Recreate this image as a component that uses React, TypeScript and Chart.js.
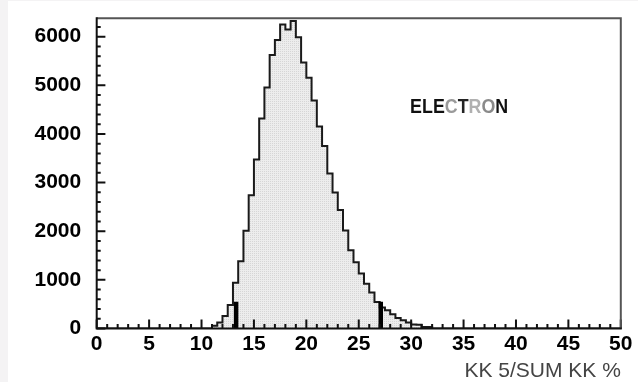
import React, { useEffect, useRef } from 'react';
import { Chart, registerables } from 'chart.js';

Chart.register(...registerables);

// Histogram: lower edge of each 0.5-wide bin and its entry count
const binLow = [
  11.0, 11.5, 12.0, 12.5, 13.0, 13.5, 14.0, 14.5, 15.0, 15.5,
  16.0, 16.5, 17.0, 17.5, 18.0, 18.5, 19.0, 19.5, 20.0, 20.5,
  21.0, 21.5, 22.0, 22.5, 23.0, 23.5, 24.0, 24.5, 25.0, 25.5,
  26.0, 26.5, 27.0, 27.5, 28.0, 28.5, 29.0, 29.5, 30.0, 30.5,
  31.0, 31.5,
];
const counts = [
  55, 125, 255, 485, 942, 1384, 2012, 2742, 3476, 4320,
  4957, 5622, 5930, 6253, 6150, 6321, 5990, 5468, 5155, 4686,
  4155, 3750, 3188, 2795, 2434, 2015, 1611, 1360, 1130, 920,
  740, 545, 430, 376, 295, 218, 171, 125, 82, 75,
  30, 30,
];
const binWidth = 0.5;

// Cut markers
const markerX = [13.3, 27.1];
const markerTop = [550, 550];

// Axes
const xMin = 0;
const xMax = 50;
const xTickLabels = [0, 5, 10, 15, 20, 25, 30, 35, 40, 45, 50];
const xMajor = 5;
const xMinor = 1;
const yMin = 0;
const yMax = 6380;
const yTickLabels = [0, 1000, 2000, 3000, 4000, 5000, 6000];
const yMajor = 1000;
const yMinor = 200;

const xTitle = 'KK 5/SUM KK %';
const label = 'ELECTRON';
const labelColors = ['#111', '#111', '#111', '#9a9a9a', '#222', '#b0b0b0', '#8a8a8a', '#111'];
const labelPos = { x: 29.9, y: 4540 };

const FONT = '"Liberation Sans", Arial, sans-serif';

export default function App() {
  const ref = useRef<HTMLCanvasElement | null>(null);

  useEffect(() => {
    const canvas = ref.current;
    if (!canvas) return;

    // dotted light-grey fill pattern
    const pc = document.createElement('canvas');
    pc.width = 2;
    pc.height = 2;
    const pctx = pc.getContext('2d')!;
    pctx.fillStyle = '#ededed';
    pctx.fillRect(0, 0, 2, 2);
    pctx.fillStyle = '#d6d6d6';
    pctx.fillRect(0, 0, 1, 1);
    const pattern = canvas.getContext('2d')!.createPattern(pc, 'repeat');

    const histPoints: { x: number; y: number }[] = [{ x: xMin, y: 0 }];
    binLow.forEach((b, i) => histPoints.push({ x: b, y: counts[i] }));
    histPoints.push({ x: binLow[binLow.length - 1] + binWidth, y: 0 });
    histPoints.push({ x: xMax, y: 0 });

    const markerSets = markerX.map((mx, i) => ({
      data: [
        { x: mx, y: 0 },
        { x: mx, y: markerTop[i] },
      ],
      borderColor: '#000',
      borderWidth: 4.5,
      borderCapStyle: 'butt' as const,
      pointRadius: 0,
      fill: false,
      order: 0,
    }));

    const decor = {
      id: 'decor',
      afterDatasetsDraw(chart: any) {
        const { ctx, chartArea: a, scales } = chart;
        const xs = scales.x;
        const ys = scales.y;
        ctx.save();
        ctx.lineCap = 'butt';
        // inward tick marks
        ctx.strokeStyle = '#111';
        ctx.lineWidth = 2;
        ctx.beginPath();
        for (let v = xMin; v <= xMax + 1e-9; v += xMinor) {
          const px = xs.getPixelForValue(v);
          const len = Math.abs(v % xMajor) < 1e-9 ? 9 : 4.5;
          ctx.moveTo(px, a.bottom);
          ctx.lineTo(px, a.bottom - len);
        }
        for (let v = yMin; v <= yMax + 1e-9; v += yMinor) {
          const py = ys.getPixelForValue(v);
          const len = Math.abs(v % yMajor) < 1e-9 ? 8.7 : 4;
          ctx.moveTo(a.left, py);
          ctx.lineTo(a.left + len, py);
        }
        ctx.stroke();
        // frame: top/right grey, left/bottom black
        ctx.strokeStyle = '#555';
        ctx.beginPath();
        ctx.moveTo(a.left, a.top);
        ctx.lineTo(a.right, a.top);
        ctx.lineTo(a.right, a.bottom);
        ctx.stroke();
        ctx.strokeStyle = '#111';
        ctx.beginPath();
        ctx.moveTo(a.left, a.top - 1);
        ctx.lineTo(a.left, a.bottom);
        ctx.lineTo(a.right + 1, a.bottom);
        ctx.stroke();

        // ELECTRON label
        ctx.font = `bold 20px ${FONT}`;
        ctx.textBaseline = 'middle';
        ctx.textAlign = 'left';
        const full = ctx.measureText(label).width;
        const sx = 98 / full;
        const lx = xs.getPixelForValue(labelPos.x);
        const ly = ys.getPixelForValue(labelPos.y);
        ctx.translate(lx, ly);
        ctx.scale(sx, 1);
        let cx = 0;
        for (let i = 0; i < label.length; i++) {
          ctx.fillStyle = labelColors[i] || '#111';
          ctx.fillText(label[i], cx, 0);
          cx += ctx.measureText(label[i]).width;
        }
        ctx.restore();

        // x-axis title
        ctx.save();
        ctx.font = `21px ${FONT}`;
        ctx.fillStyle = '#444';
        ctx.textAlign = 'right';
        ctx.textBaseline = 'alphabetic';
        ctx.fillText(xTitle, a.right, a.bottom + 48.4);
        ctx.restore();
      },
    };

    const chart = new Chart(canvas, {
      type: 'line',
      data: {
        datasets: [
          {
            data: histPoints,
            stepped: true,
            borderColor: '#1a1a1a',
            borderWidth: 2,
            pointRadius: 0,
            fill: 'origin',
            backgroundColor: pattern as any,
            order: 1,
          } as any,
          ...markerSets,
        ],
      },
      options: {
        responsive: false,
        animation: false,
        events: [],
        layout: { padding: { top: 17.2, right: 17.2, left: 0, bottom: 0 } },
        plugins: {
          legend: { display: false },
          tooltip: { enabled: false },
        },
        scales: {
          x: {
            type: 'linear',
            min: xMin,
            max: xMax,
            grid: { display: false, drawTicks: false },
            border: { display: false },
            afterBuildTicks: (s: any) => {
              s.ticks = xTickLabels.map((v) => ({ value: v }));
            },
            ticks: {
              padding: 3,
              color: '#000',
              maxRotation: 0,
              autoSkip: false,
              callback: (v: any) => String(v),
              font: { family: FONT, size: 21, weight: 'bold' },
            },
            afterFit: (s: any) => {
              s.height = 53.5;
              s.paddingLeft = 0;
              s.paddingRight = 0;
              s.paddingTop = 0;
              s.paddingBottom = 0;
            },
          },
          y: {
            type: 'linear',
            min: yMin,
            max: yMax,
            grid: { display: false, drawTicks: false },
            border: { display: false },
            afterBuildTicks: (s: any) => {
              s.ticks = yTickLabels.map((v) => ({ value: v }));
            },
            ticks: {
              padding: 15.5,
              color: '#000',
              autoSkip: false,
              callback: (v: any) => String(v),
              font: { family: FONT, size: 21, weight: 'bold' },
            },
            afterFit: (s: any) => {
              s.width = 88.7;
              s.paddingLeft = 0;
              s.paddingRight = 0;
              s.paddingTop = 0;
              s.paddingBottom = 0;
            },
          },
        },
      },
      plugins: [decor],
    });

    return () => chart.destroy();
  }, []);

  return (
    <div
      style={{
        position: 'fixed',
        left: 0,
        top: 0,
        width: 638,
        height: 382,
        background: '#f4f3f4',
      }}
    >
      <canvas
        ref={ref}
        width={630}
        height={381}
        style={{ position: 'absolute', left: 8, top: 1, width: 630, height: 381, background: '#fff' }}
      />
    </div>
  );
}
